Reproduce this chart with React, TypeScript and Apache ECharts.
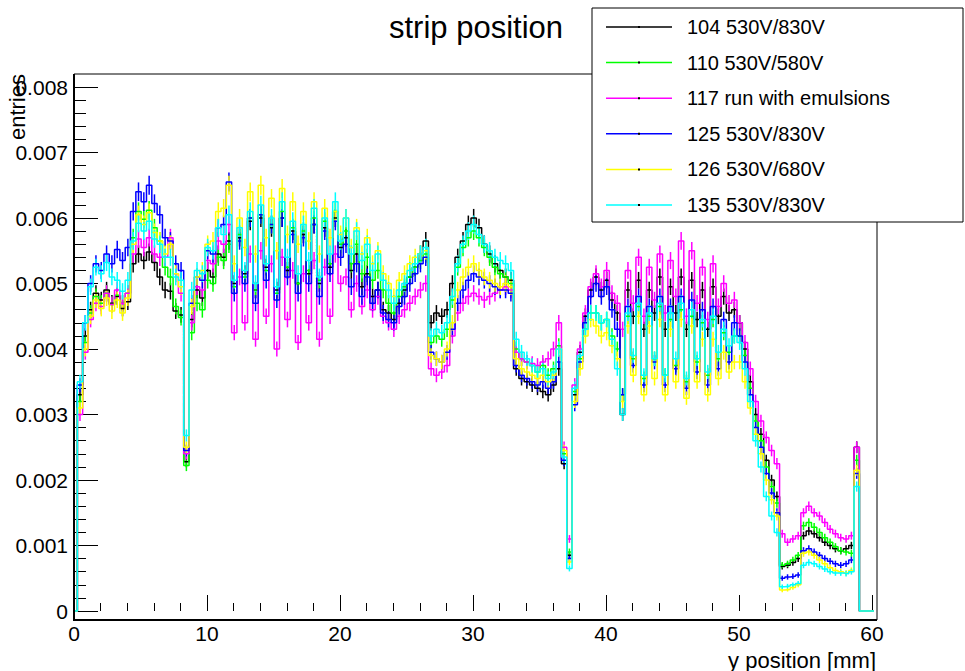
import React, { useEffect, useRef } from "react";
import * as echarts from "echarts";

// ---- data (bin contents in units of 1e-5 entries, bins of 0.4 mm starting at 0.25 mm) ----
const TITLE = "strip position";
const X_TITLE = "y position [mm]";
const Y_TITLE = "entries";
const SERIES_NAMES = [
  "104 530V/830V",
  "110 530V/580V",
  "117 run with emulsions",
  "125 530V/830V",
  "126 530V/680V",
  "135 530V/830V",
];
const SERIES_COLORS = ["#000000", "#00ff00", "#ff00ff", "#0000ff", "#ffff00", "#00ffff"];
const BIN_START = 0.25;
const BIN_WIDTH = 0.4;
const X_END = 60.4;
const UNIT = 1e-5;
const X_TICKS = [0, 10, 20, 30, 40, 50, 60];
const Y_TICKS = [0, 0.001, 0.002, 0.003, 0.004, 0.005, 0.006, 0.007, 0.008];

const run104 = [
  330, 420, 460, 485, 475, 490, 470, 480, 462, 472, 530, 545, 535, 548, 532, 510, 490, 488, 458, 452,
  228,
  445, 490, 478, 520, 510, 545, 540, 565,
  500, 570, 515, 595, 490, 600, 525, 585, 490, 600, 520, 580, 500, 575, 515, 590, 500, 585, 525, 600, 555,
  570, 520, 545, 495, 515, 480, 490, 460, 455, 445, 470, 490, 510, 525, 545, 565,
  440, 455, 450, 460, 500, 540, 565, 590, 600, 585, 560, 545, 530, 520, 510, 505,
  370, 355, 350, 345, 340, 335, 330, 345, 370, 225,
  85, 330, 395, 450, 490,
  510, 490, 505, 475, 455, 300, 490, 450, 505, 430, 490, 455, 510, 430, 495, 455, 510, 430, 505, 445, 490, 430, 495, 450, 480, 455, 460,
  440, 400, 350, 300, 270, 230, 200, 175,
  68, 70, 74, 80, 115, 122, 118, 112, 105, 100, 95, 92, 95, 100, 250,
];
const run110 = [
  320, 410, 455, 480, 470, 485, 468, 482, 470, 485, 570, 610, 598, 612, 585, 565, 525, 510, 465, 448,
  222,
  425, 470, 460, 505, 500, 540, 535, 560,
  495, 575, 510, 600, 490, 605, 520, 590, 485, 610, 525, 585, 500, 580, 520, 600, 505, 595, 530, 610, 560,
  580, 530, 560, 515, 540, 505, 520, 490, 470, 455, 480, 495, 510, 525, 535, 545,
  410, 420, 415, 430, 475, 525, 555, 570, 580, 570, 555, 540, 525, 515, 510, 500,
  400, 385, 380, 375, 365, 375, 360, 370, 405, 240,
  90, 335, 385, 430, 455,
  455, 440, 445, 420, 400, 330, 450, 385, 465, 355, 450, 385, 465, 360, 445, 375, 460, 350, 450, 380, 440, 360, 445, 385, 425, 395, 420,
  420, 390, 340, 290, 260, 220, 190, 165,
  70, 72, 78, 85, 130, 135, 128, 120, 112, 105, 98, 92, 90, 88, 230,
];
const run117 = [
  300, 395, 445, 470, 465, 485, 468, 490, 470, 485, 545, 568, 555, 570, 545, 540, 540, 570, 515, 485,
  240,
  440, 495, 490, 535, 530, 565, 560, 590,
  425, 510, 440, 545, 415, 550, 450, 530, 400, 540, 445, 520, 410, 515, 440, 535, 415, 525, 450, 545, 500,
  510, 460, 500, 465, 490, 460, 480, 450, 440, 430, 450, 460, 470, 480, 490, 500,
  370, 360, 365, 375, 420, 455, 470, 480, 485, 480, 475, 480, 485, 490, 495, 490,
  395, 385, 380, 378, 375, 380, 385, 400, 440, 250,
  110, 345, 400, 455, 495,
  515, 495, 520, 485, 470, 430, 520, 470, 540, 450, 525, 475, 545, 455, 535, 480, 565, 450, 550, 470, 525, 445, 530, 465, 500, 470, 475,
  440, 410, 370, 320, 290, 265, 245, 225,
  118, 105, 110, 115, 150, 160, 150, 145, 135, 125, 118, 112, 110, 115, 250,
];
const run125 = [
  345, 440, 500, 530, 520, 545, 530, 552, 535, 555, 610, 640, 625, 650, 622, 605, 570, 565, 530, 520,
  245,
  470, 510, 505, 550, 545, 585, 590, 655,
  485, 565, 500, 600, 470, 605, 505, 590, 475, 600, 510, 575, 485, 570, 500, 590, 480, 580, 515, 595, 540,
  560, 495, 530, 480, 510, 470, 490, 455, 445, 440, 465, 480, 500, 515, 530, 540,
  395, 385, 380, 395, 430, 470, 490, 505, 515, 510, 505, 500, 495, 490, 490, 485,
  375, 360, 355, 350, 345, 350, 340, 350, 380, 230,
  80, 315, 380, 440, 480,
  500, 480, 495, 460, 430, 330, 465, 375, 480, 345, 465, 380, 480, 345, 465, 370, 480, 340, 475, 365, 460, 345, 465, 370, 445, 380, 440,
  420, 380, 330, 280, 250, 210, 180, 150,
  50, 52, 53, 55, 92, 95, 90, 85, 80, 76, 72, 70, 72, 78, 210,
];
const run126 = [
  310, 400, 450, 475, 462, 478, 458, 475, 455, 478, 560, 605, 590, 608, 578, 565, 545, 560, 515, 495,
  250,
  465, 510, 520, 560, 565, 610, 615, 650,
  530, 600, 555, 640, 545, 650, 570, 630, 550, 645, 575, 625, 560, 610, 565, 625, 545, 615, 570, 610, 575,
  600, 555, 585, 545, 570, 530, 550, 515, 500, 480, 505, 515, 530, 540, 545, 550,
  390, 385, 380, 400, 440, 490, 510, 525, 530, 520, 510, 505, 500, 495, 500, 495,
  385, 370, 365, 360, 355, 360, 350, 360, 400, 245,
  75, 320, 370, 420, 445,
  435, 420, 425, 405, 385, 320, 435, 360, 450, 330, 435, 355, 445, 330, 430, 350, 445, 325, 435, 350, 415, 330, 415, 355, 395, 365, 380,
  380, 350, 310, 270, 240, 200, 170, 145,
  32, 33, 36, 40, 88, 90, 85, 78, 72, 66, 62, 60, 58, 62, 215,
];
const run135 = [
  350, 440, 495, 525, 515, 532, 510, 505, 488, 505, 565, 592, 580, 595, 568, 560, 540, 540, 510, 505,
  268,
  490, 520, 515, 555, 550, 585, 575, 605,
  505, 585, 520, 610, 500, 620, 530, 600, 495, 625, 540, 595, 515, 590, 535, 615, 510, 600, 545, 625, 565,
  600, 545, 580, 535, 560, 520, 545, 505, 490, 470, 490, 500, 520, 530, 545, 555,
  420, 430, 425, 440, 480, 530, 560, 580, 590, 575, 560, 550, 540, 535, 530, 520,
  415, 395, 385, 375, 365, 370, 355, 365, 400, 235,
  65, 340, 390, 430, 455,
  455, 440, 445, 415, 370, 300, 455, 390, 470, 360, 455, 385, 470, 360, 455, 385, 470, 355, 460, 385, 445, 365, 450, 395, 430, 405, 420,
  410, 370, 320, 260, 220, 175, 145, 120,
  37, 38, 40, 42, 70, 74, 72, 68, 64, 60, 58, 58, 57, 60, 190,
];
const ALL_RUNS = [run104, run110, run117, run125, run126, run135];

const FONT = "Liberation Sans, Arial, Helvetica, sans-serif";

function stepPoints(values: number[]) {
  const pts: number[][] = [[0, 0]];
  values.forEach((v, i) => pts.push([BIN_START + i * BIN_WIDTH, v * UNIT]));
  pts.push([BIN_START + values.length * BIN_WIDTH, 0]);
  pts.push([X_END, 0]);
  return pts;
}

function errorPoints(values: number[]) {
  return values.map((v, i) => {
    const y = v * UNIT;
    return [BIN_START + (i + 0.5) * BIN_WIDTH, y, Math.sqrt(y * 3.2e-6)];
  });
}

export default function App() {
  const ref = useRef<HTMLDivElement>(null);

  useEffect(() => {
    document.body.style.margin = "0";
    if (!ref.current) return;
    const chart = echarts.init(ref.current, undefined, { renderer: "svg" });

    const series: any[] = [];
    ALL_RUNS.forEach((vals, idx) => {
      const color = SERIES_COLORS[idx];
      series.push({
        type: "line",
        name: SERIES_NAMES[idx],
        data: stepPoints(vals),
        step: "end",
        showSymbol: false,
        symbol: "none",
        clip: false,
        lineStyle: { color, width: 1.5 },
        itemStyle: { color },
      });
      series.push({
        type: "custom",
        name: SERIES_NAMES[idx] + " err",
        data: errorPoints(vals),
        encode: { x: 0, y: 1 },
        renderItem: (params: any, api: any) => {
          const x = api.value(0);
          const y = api.value(1);
          const e = api.value(2);
          const p1 = api.coord([x, y - e]);
          const p2 = api.coord([x, y + e]);
          return {
            type: "line",
            shape: { x1: p1[0], y1: p1[1], x2: p2[0], y2: p2[1] },
            style: { stroke: color, lineWidth: 1.5 },
          };
        },
      });
    });

    const FL = 74, FR = 877, FT = 74, FB = 620;
    const legendRows = SERIES_NAMES.map((name, i) => {
      const y = 27 + i * 35.6;
      return [
        { type: "line", shape: { x1: 606, y1: y, x2: 672, y2: y }, style: { stroke: SERIES_COLORS[i], lineWidth: 1.5 }, z: 101 },
        { type: "rect", shape: { x: 638, y: y - 1, width: 2, height: 2 }, style: { fill: "#000" }, z: 102 },
        {
          type: "text",
          x: 687,
          y: y,
          style: { text: name, fill: "#000", font: `20px ${FONT}`, textAlign: "left", textVerticalAlign: "middle" },
          z: 101,
        },
      ];
    }).flat();

    chart.setOption({
      animation: false,
      backgroundColor: "#ffffff",
      grid: { left: 74, right: 93, top: 87, bottom: 60, containLabel: false, outerBoundsMode: "none" },
      xAxis: {
        type: "value",
        min: X_TICKS[0],
        max: X_TICKS[X_TICKS.length - 1],
        interval: 10,
        offset: 9,
        axisLine: { show: false },
        axisTick: { show: true, inside: true, length: 16, lineStyle: { color: "#000", width: 1 } },
        minorTick: { show: true, splitNumber: 5, length: 8, lineStyle: { color: "#000", width: 1 } },
        splitLine: { show: false },
        axisLabel: {
          color: "#000",
          fontFamily: FONT,
          fontSize: 21,
          margin: 3,
          formatter: (v: number) => (X_TICKS.includes(v) ? String(v) : ""),
        },
      },
      yAxis: {
        type: "value",
        min: Y_TICKS[0],
        max: Y_TICKS[Y_TICKS.length - 1],
        interval: 0.001,
        axisLine: { show: false },
        axisTick: { show: true, inside: true, length: 24, lineStyle: { color: "#000", width: 1 } },
        minorTick: { show: true, splitNumber: 5, length: 12, lineStyle: { color: "#000", width: 1 } },
        splitLine: { show: false },
        axisLabel: {
          color: "#000",
          fontFamily: FONT,
          fontSize: 21,
          margin: 6,
          formatter: (v: number) => {
            const t = Y_TICKS.find((k) => Math.abs(k - v) < 1e-9);
            return t === undefined ? "" : t === 0 ? "0" : t.toFixed(3);
          },
        },
      },
      series,
      graphic: [
        { type: "line", shape: { x1: FL, y1: FT, x2: FR, y2: FT }, style: { stroke: "#000", lineWidth: 1 }, z: 50 },
        { type: "line", shape: { x1: FR, y1: FT, x2: FR, y2: FB }, style: { stroke: "#000", lineWidth: 1 }, z: 50 },
        { type: "line", shape: { x1: FL, y1: FT, x2: FL, y2: FB + 1 }, style: { stroke: "#000", lineWidth: 2 }, z: 50 },
        { type: "line", shape: { x1: FL, y1: FB, x2: FR, y2: FB }, style: { stroke: "#000", lineWidth: 2 }, z: 50 },
        {
          type: "text",
          x: 476,
          y: 27,
          style: { text: TITLE, fill: "#000", font: `31px ${FONT}`, textAlign: "center", textVerticalAlign: "middle" },
          z: 60,
        },
        {
          type: "text",
          x: 17,
          y: 74,
          rotation: Math.PI / 2,
          style: { text: Y_TITLE, fill: "#000", font: `22px ${FONT}`, textAlign: "right", textVerticalAlign: "middle" },
          z: 60,
        },
        {
          type: "text",
          x: 876,
          y: 660,
          style: { text: X_TITLE, fill: "#000", font: `22px ${FONT}`, textAlign: "right", textVerticalAlign: "middle" },
          z: 60,
        },
        {
          type: "rect",
          shape: { x: 592, y: 8, width: 371, height: 214 },
          style: { fill: "#fff", stroke: "#000", lineWidth: 1 },
          z: 100,
        },
        ...legendRows,
      ],
    });

    return () => chart.dispose();
  }, []);

  return <div ref={ref} style={{ width: 965, height: 671 }} />;
}
